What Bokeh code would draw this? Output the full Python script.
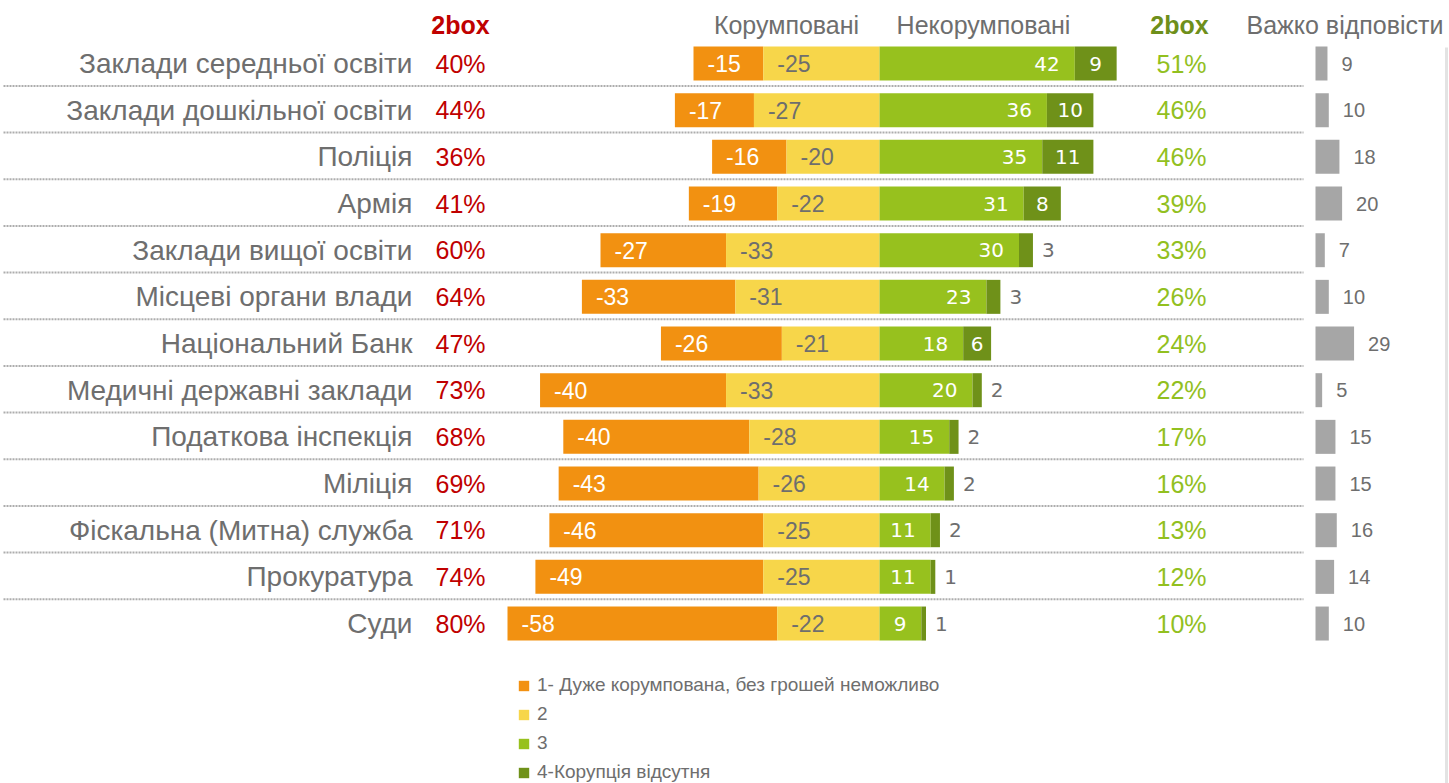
from bokeh.plotting import figure
from bokeh.models import Range1d, Legend, LegendItem, ColumnDataSource
from bokeh.core.properties import value
from bokeh.embed import file_html
from bokeh.resources import INLINE
import numpy as np

# ---------------- data ----------------
categories = [
    "Заклади середньої освіти", "Заклади дошкільної освіти", "Поліція", "Армія",
    "Заклади вищої освіти", "Місцеві органи влади", "Національний Банк",
    "Медичні державні заклади", "Податкова інспекція", "Міліція",
    "Фіскальна (Митна) служба", "Прокуратура", "Суди",
]
corrupt_2box = [40, 44, 36, 41, 60, 64, 47, 73, 68, 69, 71, 74, 80]
very_corrupt = [-15, -17, -16, -19, -27, -33, -26, -40, -40, -43, -46, -49, -58]
rather_corrupt = [-25, -27, -20, -22, -33, -31, -21, -33, -28, -26, -25, -25, -22]
rather_clean = [42, 36, 35, 31, 30, 23, 18, 20, 15, 14, 11, 11, 9]
clean = [9, 10, 11, 8, 3, 3, 6, 2, 2, 2, 2, 1, 1]
clean_2box = [51, 46, 46, 39, 33, 26, 24, 22, 17, 16, 13, 12, 10]
hard_to_say = [9, 10, 18, 20, 7, 10, 29, 5, 15, 15, 16, 14, 10]
legend_labels = ["1- Дуже корумпована, без грошей неможливо", "2", "3", "4-Корупція відсутня"]
header_corrupt = "Корумповані"
header_clean = "Некорумповані"
header_box = "2box"
header_hard = "Важко відповісти"

# ---------------- style ----------------
ORANGE = "#F29111"
YELLOW = "#F7D64A"
LGREEN = "#97C11E"
DGREEN = "#6F9119"
RED = "#C00000"
GTEXT = "#92C01F"
GHEAD = "#6E8F1B"
GREY = "#A6A6A6"
TXT = "#6E6E6E"
ARIAL = value("Liberation Sans")
VERD = value("DejaVu Sans")

W, H = 1449, 783
PX_PER_UNIT = 4.65
ZERO_X = 879            # pixel x of zero
ROW0_Y, ROW_STEP = 63, 46.67
DK_X0, DK_SCALE = 1315, 1.33

n = len(categories)
rows = np.arange(n)

p = figure(
    width=W, height=H,
    x_range=Range1d((0 - ZERO_X) / PX_PER_UNIT, (W - ZERO_X) / PX_PER_UNIT),
    y_range=Range1d((H - ROW0_Y) / ROW_STEP, (0 - ROW0_Y) / ROW_STEP),
    output_backend="svg", toolbar_location=None, min_border=0,
    x_axis_location=None, y_axis_location=None, outline_line_color=None,
)
p.grid.grid_line_color = None
p.extra_x_ranges = {
    "px": Range1d(0, W),
    "dk": Range1d((0 - DK_X0) / DK_SCALE, (W - DK_X0) / DK_SCALE),
}
p.extra_y_ranges = {"px": Range1d(H, 0)}

vc = np.array(very_corrupt)
rc = np.array(rather_corrupt)
rcl = np.array(rather_clean)
cl = np.array(clean)

src = ColumnDataSource(dict(
    y=rows,
    o_l=vc + rc, o_r=rc, o_t=[str(v) for v in vc],
    y_l=rc, y_r=np.zeros(n), y_t=[str(v) for v in rc],
    g_l=np.zeros(n), g_r=rcl, g_t=[str(v) for v in rcl],
    d_l=rcl, d_r=rcl + cl,
    cat=categories,
    red=[f"{v}%" for v in corrupt_2box],
    grn=[f"{v}%" for v in clean_2box],
    dk=hard_to_say, dk_t=[str(v) for v in hard_to_say], zero=np.zeros(n),
))

# separators
sep_y = rows[:-1] + 0.48
p.segment(x0=3, x1=1303, y0=sep_y, y1=sep_y, x_range_name="px",
          line_color="#ADADAD", line_width=2, line_dash="2 1")
# right border line
p.segment(x0=[1446], x1=[1446], y0=[47], y1=[H], x_range_name="px", y_range_name="px",
          line_color="#E3E3E3", line_width=3)

BH = 34 / ROW_STEP
r1 = p.hbar(y="y", left="o_l", right="o_r", height=BH, source=src, fill_color=ORANGE, line_color=None)
r2 = p.hbar(y="y", left="y_l", right="y_r", height=BH, source=src, fill_color=YELLOW, line_color=None)
r3 = p.hbar(y="y", left="g_l", right="g_r", height=BH, source=src, fill_color=LGREEN, line_color=None)
r4 = p.hbar(y="y", left="d_l", right="d_r", height=BH, source=src, fill_color=DGREEN, line_color=None)

# segment labels
p.text(x="o_l", y="y", text="o_t", source=src, x_offset=14, text_align="left", text_baseline="middle",
       text_color="white", text_font=ARIAL, text_font_size="23px")
p.text(x="y_l", y="y", text="y_t", source=src, x_offset=14, text_align="left", text_baseline="middle",
       text_color=TXT, text_font=ARIAL, text_font_size="23px")
p.text(x="g_r", y="y", text="g_t", source=src, x_offset=-15, text_align="right", text_baseline="middle",
       text_color="white", text_font=VERD, text_font_size="20px")

inside = cl >= 6
src_in = ColumnDataSource(dict(x=(rcl + cl / 2)[inside], y=rows[inside], t=[str(v) for v in cl[inside]]))
src_out = ColumnDataSource(dict(x=(rcl + cl)[~inside], y=rows[~inside], t=[str(v) for v in cl[~inside]]))
p.text(x="x", y="y", text="t", source=src_in, text_align="center", text_baseline="middle",
       text_color="white", text_font=VERD, text_font_size="20px")
p.text(x="x", y="y", text="t", source=src_out, x_offset=9, text_align="left", text_baseline="middle",
       text_color=TXT, text_font=VERD, text_font_size="20px")

# category labels & 2box
p.text(x=412, y="y", text="cat", source=src, x_range_name="px", text_align="right", text_baseline="middle",
       text_color=TXT, text_font=ARIAL, text_font_size="28px")
p.text(x=460, y="y", text="red", source=src, x_range_name="px", text_align="center", text_baseline="middle",
       text_color=RED, text_font=ARIAL, text_font_size="25px")
p.text(x=1181, y="y", text="grn", source=src, x_range_name="px", text_align="center", text_baseline="middle",
       text_color=GTEXT, text_font=ARIAL, text_font_size="25px")

# hard to say
p.hbar(y="y", left="zero", right="dk", height=BH, source=src, x_range_name="dk",
       fill_color=GREY, line_color=None)
p.text(x="dk", y="y", text="dk_t", source=src, x_range_name="dk", x_offset=14, text_align="left",
       text_baseline="middle", text_color=TXT, text_font=ARIAL, text_font_size="20px")

# headers
p.text(x=[460], y=[24], text=[header_box], x_range_name="px", y_range_name="px", text_align="center",
       text_baseline="middle", text_color=RED, text_font=ARIAL, text_font_style="bold", text_font_size="25px")
p.text(x=[786], y=[24], text=[header_corrupt], x_range_name="px", y_range_name="px", text_align="center",
       text_baseline="middle", text_color=TXT, text_font=ARIAL, text_font_size="25px")
p.text(x=[983], y=[24], text=[header_clean], x_range_name="px", y_range_name="px", text_align="center",
       text_baseline="middle", text_color=TXT, text_font=ARIAL, text_font_size="25px")
p.text(x=[1179], y=[24], text=[header_box], x_range_name="px", y_range_name="px", text_align="center",
       text_baseline="middle", text_color=GHEAD, text_font=ARIAL, text_font_style="bold", text_font_size="25px")
p.text(x=[1246], y=[24], text=[header_hard], x_range_name="px", y_range_name="px", text_align="left",
       text_baseline="middle", text_color=TXT, text_font=ARIAL, text_font_size="25px")

legend = Legend(
    items=[LegendItem(label=l, renderers=[r]) for l, r in zip(legend_labels, [r1, r2, r3, r4])],
    location=(517, 0), orientation="vertical", padding=0, margin=0, spacing=7,
    glyph_width=13, glyph_height=13, label_height=22, label_standoff=7,
    label_text_font="Liberation Sans", label_text_font_size="19px", label_text_color=TXT,
    border_line_color=None, background_fill_alpha=0,
)
p.add_layout(legend, "center")

open("out.html", "w").write(file_html(p, INLINE))
